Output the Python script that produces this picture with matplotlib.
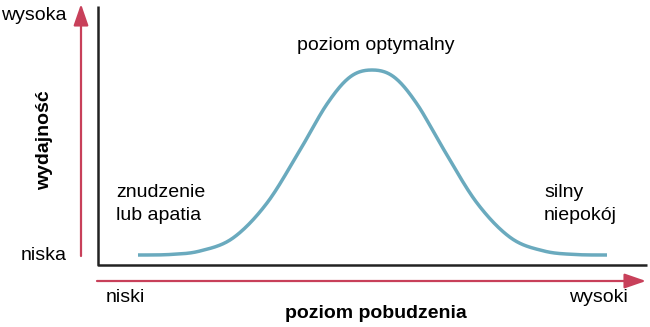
import matplotlib
matplotlib.use("Agg")
import matplotlib.pyplot as plt
import numpy as np

plt.rcParams['font.family'] = ['Liberation Sans', 'DejaVu Sans']

# Curve (pixel coordinates: x right, y down)
curve_x = [138, 170, 200, 233, 267, 300, 327, 350, 372, 394, 417, 444, 477, 511, 544, 575, 607]
curve_y = [255, 254.5, 251, 238, 203, 150, 104, 77, 70, 77, 104, 150, 203, 238, 251, 254.5, 255]

y_labels = ["wysoka", "niska"]
x_labels = ["niski", "wysoki"]
y_title = "wydajność"
x_title = "poziom pobudzenia"
annotations = ["poziom optymalny", "znudzenie\nlub apatia", "silny\nniepokój"]


def catmull_rom(xs, ys, n=30):
    P = np.column_stack([xs, ys]).astype(float)
    P = np.vstack([P[0], P, P[-1]])
    out = []
    for i in range(1, len(P) - 2):
        p0, p1, p2, p3 = P[i - 1], P[i], P[i + 1], P[i + 2]
        t = np.linspace(0, 1, n, endpoint=False)[:, None]
        seg = 0.5 * ((2 * p1) + (-p0 + p2) * t + (2 * p0 - 5 * p1 + 4 * p2 - p3) * t ** 2
                     + (-p0 + 3 * p1 - 3 * p2 + p3) * t ** 3)
        out.append(seg)
    out.append(P[-2][None, :])
    S = np.vstack(out)
    return S[:, 0], S[:, 1]


fig = plt.figure(figsize=(6.5, 3.27), dpi=100)
ax = fig.add_axes([0, 0, 1, 1])
ax.set_xlim(0, 650)
ax.set_ylim(327, 0)
ax.axis('off')

red = '#c8405a'
teal = '#6aaabe'

# black axes
ax.plot([98, 98, 647], [6, 265, 265], color='#222222', lw=1.8, solid_capstyle='butt')

# red arrows
ax.annotate('', xy=(81, 4), xytext=(81, 256),
            arrowprops=dict(arrowstyle='-|>,head_length=1.3,head_width=0.45', color=red, lw=1.6,
                            shrinkA=0, shrinkB=0))
ax.annotate('', xy=(646, 281), xytext=(97, 281),
            arrowprops=dict(arrowstyle='-|>,head_length=1.3,head_width=0.45', color=red, lw=1.6,
                            shrinkA=0, shrinkB=0))

# curve
sx, sy = catmull_rom(curve_x, curve_y)
ax.plot(sx, sy, color=teal, lw=2.5, solid_capstyle='butt', solid_joinstyle='round')

fs = 14
ax.text(67, 16, y_labels[0], ha='right', va='center', fontsize=fs)
ax.text(67, 255, y_labels[1], ha='right', va='center', fontsize=fs)
ax.text(45, 140, y_title, ha='center', va='center', rotation=90, fontsize=fs, fontweight='bold')
ax.text(106, 298, x_labels[0], ha='left', va='center', fontsize=fs)
ax.text(628, 298, x_labels[1], ha='right', va='center', fontsize=fs)
ax.text(376, 313, x_title, ha='center', va='center', fontsize=fs, fontweight='bold')
ax.text(376, 45, annotations[0], ha='center', va='center', fontsize=fs)
ax.text(116, 204, annotations[1], ha='left', va='center', fontsize=fs, linespacing=1.45)
ax.text(544, 204, annotations[2], ha='left', va='center', fontsize=fs, linespacing=1.45)

fig.savefig('out.png', dpi=100)
